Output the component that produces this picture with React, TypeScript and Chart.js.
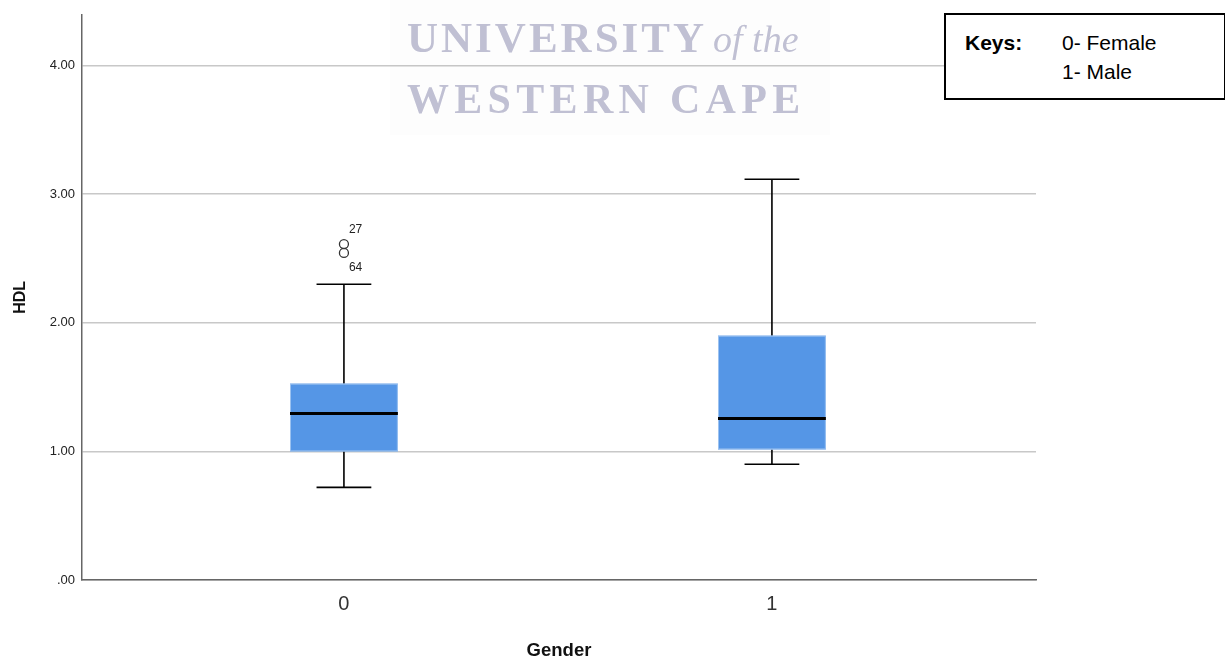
import React, { useEffect, useRef } from "react";
import { Chart, registerables } from "chart.js";

Chart.register(...registerables);

const categories = [0, 1];
const categoryLabels = ["0", "1"];
const q1Values = [1.0, 1.015];
const medianValues = [1.295, 1.256];
const q3Values = [1.527, 1.9];
const whiskerLow = [0.72, 0.9];
const whiskerHigh = [2.3, 3.116];
const outlierGroup = [0, 0];
const outlierValues = [2.612, 2.543];
const outlierIds = ["27", "64"];
const yTicks = [0, 1, 2, 3, 4];

const boxPlugin = {
  id: "boxes",
  beforeDatasetsDraw(chart: any) {
    const { ctx, scales } = chart;
    const x = scales.x;
    const y = scales.y;
    const halfBox = 0.126;
    const halfCap = 0.064;
    ctx.save();
    categories.forEach((c, i) => {
      const cx = x.getPixelForValue(c);
      const bl = x.getPixelForValue(c - halfBox);
      const br = x.getPixelForValue(c + halfBox);
      const cl = x.getPixelForValue(c - halfCap);
      const cr = x.getPixelForValue(c + halfCap);
      const yq1 = y.getPixelForValue(q1Values[i]);
      const yq3 = y.getPixelForValue(q3Values[i]);
      const ymed = y.getPixelForValue(medianValues[i]);
      const ylo = y.getPixelForValue(whiskerLow[i]);
      const yhi = y.getPixelForValue(whiskerHigh[i]);
      ctx.strokeStyle = "#000";
      ctx.lineWidth = 1.6;
      ctx.beginPath();
      ctx.moveTo(cx, yq3);
      ctx.lineTo(cx, yhi);
      ctx.moveTo(cl, yhi);
      ctx.lineTo(cr, yhi);
      ctx.moveTo(cx, yq1);
      ctx.lineTo(cx, ylo);
      ctx.moveTo(cl, ylo);
      ctx.lineTo(cr, ylo);
      ctx.stroke();
      ctx.fillStyle = "#5596e6";
      ctx.fillRect(bl, yq3, br - bl, yq1 - yq3);
      ctx.strokeStyle = "#9cc2f0";
      ctx.lineWidth = 1;
      ctx.strokeRect(bl + 0.5, yq3 + 0.5, br - bl - 1, yq1 - yq3 - 1);
      ctx.strokeStyle = "#000";
      ctx.lineWidth = 3;
      ctx.beginPath();
      ctx.moveTo(bl, ymed);
      ctx.lineTo(br, ymed);
      ctx.stroke();
    });
    ctx.restore();
  },
  afterDatasetsDraw(chart: any) {
    const { ctx, scales } = chart;
    ctx.save();
    ctx.fillStyle = "#222";
    ctx.font = "12px 'Liberation Sans', Arial, sans-serif";
    ctx.textAlign = "left";
    ctx.textBaseline = "middle";
    outlierValues.forEach((v, i) => {
      const px = scales.x.getPixelForValue(categories[outlierGroup[i]]);
      const py = scales.y.getPixelForValue(v);
      const dy = i === 0 ? -14 : 15;
      ctx.fillText(outlierIds[i], px + 5, py + dy);
    });
    ctx.restore();
  },
};

export default function App() {
  const ref = useRef<HTMLCanvasElement | null>(null);
  useEffect(() => {
    if (!ref.current) return;
    const chart = new Chart(ref.current, {
      type: "scatter",
      data: {
        datasets: [
          {
            data: outlierValues.map((v, i) => ({ x: categories[outlierGroup[i]], y: v })),
            pointStyle: "circle",
            pointRadius: 4.5,
            pointBackgroundColor: "rgba(255,255,255,0)",
            pointBorderColor: "#333",
            pointBorderWidth: 1.3,
          },
        ],
      },
      options: {
        animation: false,
        responsive: false,
        maintainAspectRatio: false,
        events: [],
        layout: { padding: { left: 0, top: 13, right: 189, bottom: 0 } },
        plugins: { legend: { display: false }, tooltip: { enabled: false } },
        scales: {
          x: {
            type: "linear",
            min: -0.612,
            max: 1.617,
            afterBuildTicks: (s: any) => {
              s.ticks = categories.map((v) => ({ value: v }));
            },
            afterFit: (s: any) => {
              s.height = 79;
            },
            grid: { display: false, drawTicks: false },
            border: { display: true, color: "#666", width: 1.5 },
            ticks: {
              padding: 12,
              color: "#333",
              font: { family: "'Liberation Sans', Arial, sans-serif", size: 20, weight: "300" },
              callback: (v: any) => categoryLabels[categories.indexOf(Number(v))] ?? "",
            },
            title: {
              display: true,
              text: "Gender",
              color: "#111",
              padding: { top: 0, bottom: -3 },
              font: { family: "'Liberation Sans', Arial, sans-serif", size: 18.5, weight: "bold" },
            },
          },
          y: {
            min: 0,
            max: 4.395,
            afterBuildTicks: (s: any) => {
              s.ticks = yTicks.map((v) => ({ value: v }));
            },
            afterFit: (s: any) => {
              s.width = 82;
            },
            grid: { color: "#c8c8c8", lineWidth: 1.5, drawTicks: false },
            border: { display: true, color: "#666", width: 1.5 },
            ticks: {
              padding: 7,
              color: "#222",
              font: { family: "'Liberation Sans', Arial, sans-serif", size: 13 },
              callback: (v: any) => (Number(v) === 0 ? ".00" : Number(v).toFixed(2)),
            },
            title: {
              display: true,
              text: "HDL",
              color: "#111",
              padding: { top: 11, bottom: 0 },
              font: { family: "'Liberation Sans', Arial, sans-serif", size: 16, weight: "bold" },
            },
          },
        },
      },
      plugins: [boxPlugin],
    });
    return () => chart.destroy();
  }, []);

  return (
    <div style={{ position: "absolute", left: 0, top: 0, width: 1225, height: 659, background: "#fff", overflow: "hidden" }}>
      <canvas ref={ref} width={1225} height={659} style={{ position: "absolute", left: 0, top: 0 }} />
      <div
        style={{
          position: "absolute",
          left: 390,
          top: 0,
          width: 440,
          height: 135,
          background: "rgba(0,0,0,0.006)",
          fontFamily: "'Liberation Serif', 'DejaVu Serif', serif",
          color: "#c0c0d3",
          pointerEvents: "none",
        }}
      >
        <div style={{ position: "absolute", left: 17, top: 14, whiteSpace: "nowrap", fontSize: 43, fontWeight: "bold", letterSpacing: 3, lineHeight: "48px" }}>
          UNIVERSITY<span style={{ fontStyle: "italic", fontWeight: "normal", fontSize: 38, letterSpacing: 0, marginLeft: 6 }}>of the</span>
        </div>
        <div style={{ position: "absolute", left: 17, top: 75, whiteSpace: "nowrap", fontSize: 42, fontWeight: "bold", letterSpacing: 5.3, lineHeight: "48px" }}>
          WESTERN CAPE
        </div>
      </div>
      <div
        style={{
          position: "absolute",
          left: 944,
          top: 13,
          width: 278,
          height: 83,
          border: "2px solid #000",
          background: "#fff",
          fontFamily: "'Liberation Sans', Arial, sans-serif",
          fontSize: 21,
          color: "#000",
        }}
      >
        <div style={{ position: "absolute", left: 19, top: 16, fontWeight: "bold", lineHeight: "24px" }}>Keys:</div>
        <div style={{ position: "absolute", left: 116, top: 16, lineHeight: "24px" }}>0- Female</div>
        <div style={{ position: "absolute", left: 116, top: 45, lineHeight: "24px" }}>1- Male</div>
      </div>
    </div>
  );
}
